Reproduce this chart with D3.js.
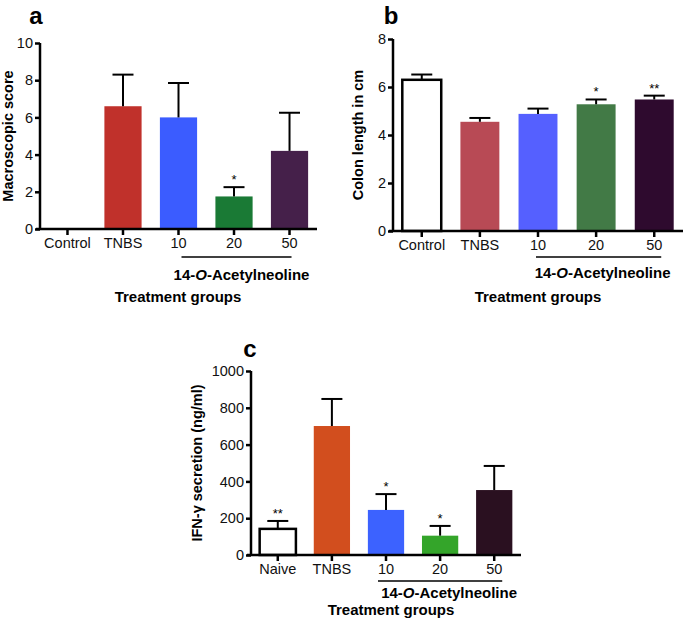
<!DOCTYPE html>
<html>
<head>
<meta charset="utf-8">
<script src="https://cdn.jsdelivr.net/npm/d3@7"></script>
<style>
  body { margin: 0; background: #fff; }
  svg text { font-family: "Liberation Sans", Arial, sans-serif; }
</style>
</head>
<body>
<div id="vis"></div>
<script>
// data
const groupsA = ["Control", "TNBS", "10", "20", "50"];
const meanA = [0, 6.6, 6.0, 1.75, 4.2];
const errA = [0, 1.7, 1.85, 0.5, 2.05];
const starsA = ["", "", "", "*", ""];
const colorsA = ["#ffffff", "#c0312b", "#3b5cff", "#1a7a35", "#45204a"];
const ticksA = [0, 2, 4, 6, 8, 10];

const groupsB = ["Control", "TNBS", "10", "20", "50"];
const meanB = [6.3, 4.55, 4.88, 5.28, 5.48];
const errB = [0.22, 0.16, 0.22, 0.2, 0.16];
const starsB = ["", "", "", "*", "**"];
const colorsB = ["#ffffff", "#b84a55", "#5560ff", "#427a46", "#2e0a2e"];
const ticksB = [0, 2, 4, 6, 8];

const groupsC = ["Naive", "TNBS", "10", "20", "50"];
const meanC = [142, 701, 245, 105, 353];
const errC = [43, 147, 86, 53, 131];
const starsC = ["**", "", "*", "*", ""];
const colorsC = ["#ffffff", "#d24e1e", "#3c62ff", "#34a52a", "#2a1020"];
const ticksC = [0, 200, 400, 600, 800, 1000];

const WIDTH = 685;
const HEIGHT = 622;

const svg = d3.select("#vis")
  .append("svg")
  .attr("width", WIDTH)
  .attr("height", HEIGHT);

function drawPanel(p) {
  const g = svg.append("g");

  const x = d3.scaleBand()
    .domain(p.groups)
    .range([p.x0, p.x1])
    .paddingInner(0.33)
    .paddingOuter(0.16);

  const y = d3.scaleLinear()
    .domain([0, p.max])
    .range([p.y0, p.y1]);

  const mid = d => x(d) + x.bandwidth() / 2;
  const top = i => y(p.mean[i] + p.err[i]);

  // bars
  g.selectAll(".bar")
    .data(p.groups)
    .join("rect")
    .attr("x", d => x(d))
    .attr("width", x.bandwidth())
    .attr("y", (d, i) => y(p.mean[i]))
    .attr("height", (d, i) => y(0) - y(p.mean[i]))
    .attr("fill", (d, i) => p.colors[i])
    .attr("stroke", (d, i) => p.colors[i] == "#ffffff" && p.mean[i] > 0 ? "#000" : "none")
    .attr("stroke-width", 2.5);

  // error bars (upper only)
  p.groups.forEach((d, i) => {
    if (p.err[i] <= 0) return;
    g.append("line")
      .attr("x1", mid(d)).attr("x2", mid(d))
      .attr("y1", y(p.mean[i])).attr("y2", top(i))
      .attr("stroke", "#000").attr("stroke-width", 2);
    g.append("line")
      .attr("x1", mid(d) - 10.5).attr("x2", mid(d) + 10.5)
      .attr("y1", top(i)).attr("y2", top(i))
      .attr("stroke", "#000").attr("stroke-width", 2);
  });

  // stars
  g.selectAll(".star")
    .data(p.groups)
    .join("text")
    .attr("x", d => mid(d))
    .attr("y", (d, i) => top(i) - 3)
    .attr("text-anchor", "middle")
    .attr("font-size", 13)
    .text((d, i) => p.stars[i]);

  // axes
  const yAxis = g.append("g")
    .attr("transform", `translate(${p.x0},0)`)
    .call(d3.axisLeft(y).tickValues(p.ticks).tickFormat(d3.format("d")).tickSize(5).tickPadding(2));
  const xAxis = g.append("g")
    .attr("transform", `translate(0,${p.y0})`)
    .call(d3.axisBottom(x).tickSize(6).tickPadding(3));
  yAxis.select(".domain").attr("stroke-width", 2.5).attr("d", `M0,${p.y0 + 1}V${p.y1}`);
  xAxis.select(".domain").attr("stroke-width", 2.5).attr("d", `M${p.x0 - 4},0H${p.x1}`);
  [yAxis, xAxis].forEach(a => {
    a.selectAll(".tick line").attr("stroke-width", 2.5);
    a.selectAll(".tick text")
      .attr("font-size", 14.5)
      .attr("fill", "#111")
      .style("font-family", "Liberation Sans, Arial, sans-serif");
  });

  // bracket under doses
  const bx0 = mid(p.groups[2]) + p.bl;
  const bx1 = mid(p.groups[4]) + p.br;
  g.append("line")
    .attr("x1", bx0).attr("x2", bx1)
    .attr("y1", p.y0 + p.bracketDy).attr("y2", p.y0 + p.bracketDy)
    .attr("stroke", "#000").attr("stroke-width", 1.5);
  const lab = g.append("text")
    .attr("x", (bx0 + bx1) / 2 + p.labelDx)
    .attr("y", p.y0 + p.labelDy + 5)
    .attr("text-anchor", "middle")
    .attr("font-size", 15)
    .attr("font-weight", "bold");
  lab.append("tspan").text("14-");
  lab.append("tspan").attr("font-style", "italic").text("O");
  lab.append("tspan").text("-Acetylneoline");

  g.append("text")
    .attr("x", p.titleX)
    .attr("y", p.y0 + p.titleDy + 5)
    .attr("text-anchor", "middle")
    .attr("font-size", 15)
    .attr("font-weight", "bold")
    .text("Treatment groups");

  g.append("text")
    .attr("transform", `translate(${p.ylabX},${(p.y0 + p.y1) / 2}) rotate(-90)`)
    .attr("text-anchor", "middle")
    .attr("dy", "0.35em")
    .attr("font-size", 14.5)
    .attr("font-weight", "bold")
    .text(p.ylabel);

  g.append("text")
    .attr("x", p.letterX)
    .attr("y", p.letterY)
    .attr("text-anchor", "middle")
    .attr("font-size", 24)
    .attr("font-weight", "bold")
    .text(p.letter);
}

drawPanel({
  groups: groupsA, mean: meanA, err: errA, stars: starsA, colors: colorsA, ticks: ticksA,
  max: 10, x0: 40, x1: 317, y0: 229, y1: 43,
  bl: 3, br: 2, bracketDy: 28, labelDy: 46, labelDx: 5, titleDy: 68,
  ylabel: "Macroscopic score", ylabX: 8, titleX: 178,
  letter: "a", letterX: 36, letterY: 24
});

drawPanel({
  groups: groupsB, mean: meanB, err: errB, stars: starsB, colors: colorsB, ticks: ticksB,
  max: 8, x0: 393, x1: 683, y0: 231, y1: 39,
  bl: -2, br: 7, bracketDy: 26, labelDy: 42, labelDx: 4, titleDy: 66,
  ylabel: "Colon length in cm", ylabX: 358, titleX: 538,
  letter: "b", letterX: 391, letterY: 24
});

drawPanel({
  groups: groupsC, mean: meanC, err: errC, stars: starsC, colors: colorsC, ticks: ticksC,
  max: 1000, x0: 251, x1: 521, y0: 555, y1: 371,
  bl: -8, br: 8, bracketDy: 26, labelDy: 38, labelDx: 9, titleDy: 55,
  ylabel: "IFN-γ secretion (ng/ml)", ylabX: 197, titleX: 391,
  letter: "c", letterX: 250, letterY: 357
});
</script>
</body>
</html>
